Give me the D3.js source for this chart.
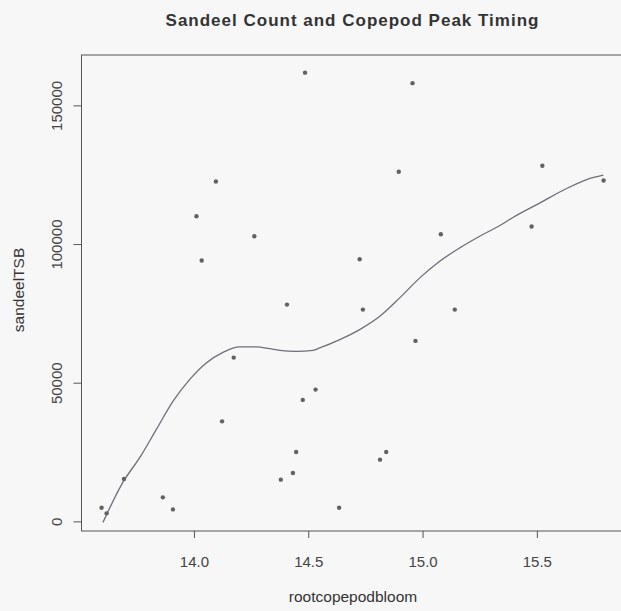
<!DOCTYPE html>
<html>
<head>
<meta charset="utf-8">
<script src="https://cdn.jsdelivr.net/npm/d3@7"></script>
<style>
  html, body { margin: 0; padding: 0; background: #f7f7f7; }
  svg { display: block; }
</style>
</head>
<body>
<svg id="chart" width="621" height="611"></svg>
<script>
// Copepod bloom timing (root-transformed) vs sandeel total stock biomass
const bloom = [14.486, 14.096, 14.011, 14.264, 14.034, 14.956, 14.896, 15.524, 15.792, 15.080,
               15.477, 14.725, 14.407, 14.174, 14.532, 14.476, 14.123, 14.447, 13.694, 14.433,
               14.380, 13.864, 13.596, 13.908, 13.618, 14.635, 14.739, 15.141, 14.969, 14.841,
               14.814];
const sandeelTSB = [161810, 122550, 110030, 102810, 94050, 158010, 126050, 128210, 122910, 103540,
                    106310, 94520, 78170, 59050, 47510, 43800, 36075, 25040, 15300, 17460,
                    15040, 8660, 4940, 4330, 2890, 4940, 76370, 76370, 65080, 25040,
                    22260];

// Smoothed trend through the scatter
const smoothX = [13.602, 13.689, 13.762, 13.835, 13.908, 13.981, 14.054, 14.127, 14.200, 14.273,
                 14.331, 14.375, 14.448, 14.521, 14.550, 14.638, 14.725, 14.813, 14.900, 14.988,
                 15.075, 15.163, 15.250, 15.338, 15.397, 15.514, 15.630, 15.718, 15.791];
const smoothY = [-360, 14070, 22870, 33080, 43290, 51120, 57140, 60970, 62920, 62920,
                 62300, 61690, 61330, 61690, 62550, 65550, 69160, 73950, 80590, 87810,
                 93800, 98630, 102810, 106670, 109670, 114860, 120020, 123270, 124820];

const xTicks = [14.0, 14.5, 15.0, 15.5];
const yTicks = [0, 50000, 100000, 150000];

const titleText = "Sandeel Count and Copepod Peak Timing";
const xLabel = "rootcopepodbloom";
const yLabel = "sandeelTSB";

const svg = d3.select("#chart");
const plot = { left: 81.5, right: 623.7, top: 55, bottom: 531 };

// R-style 4% padding around the data range
function padded(ext) {
  const p = (ext[1] - ext[0]) * 0.04;
  return [ext[0] - p, ext[1] + p];
}
const x = d3.scaleLinear().domain(padded(d3.extent(bloom))).range([plot.left, plot.right]);
const y = d3.scaleLinear().domain(padded(d3.extent(sandeelTSB))).range([plot.bottom, plot.top]);

const axisColor = "#555";
const textColor = "#444";
const font = "'Liberation Sans', Arial, sans-serif";

// Title
svg.append("text")
  .attr("x", 352.5).attr("y", 26)
  .attr("text-anchor", "middle")
  .attr("font-family", font).attr("font-weight", "bold").attr("font-size", 17)
  .attr("letter-spacing", 1)
  .attr("fill", "#333")
  .text(titleText);

// Plot box
svg.append("rect")
  .attr("x", plot.left).attr("y", plot.top)
  .attr("width", plot.right - plot.left).attr("height", plot.bottom - plot.top)
  .attr("fill", "none").attr("stroke", axisColor).attr("stroke-width", 1);

// X axis
const xAxis = d3.axisBottom(x).tickValues(xTicks).tickFormat(d3.format(".1f")).tickSize(7);
const gx = svg.append("g").attr("transform", `translate(0,${plot.bottom})`).call(xAxis);
gx.select(".domain").remove();
gx.selectAll("line").attr("stroke", axisColor);
gx.selectAll("text")
  .attr("font-family", font).attr("font-size", 15).attr("fill", textColor)
  .attr("y", 35.7).attr("dy", 0);

// Y axis with rotated labels
const yAxis = d3.axisLeft(y).tickValues(yTicks).tickFormat(d3.format("d")).tickSize(8);
const gy = svg.append("g").attr("transform", `translate(${plot.left},0)`).call(yAxis);
gy.select(".domain").remove();
gy.selectAll("line").attr("stroke", axisColor);
gy.selectAll("text")
  .attr("font-family", font).attr("font-size", 15).attr("fill", textColor)
  .attr("text-anchor", "middle").attr("x", 0).attr("y", 0).attr("dy", 0)
  .attr("transform", "translate(-19.8,0) rotate(-90)");

// Axis titles
svg.append("text")
  .attr("x", 353).attr("y", 602)
  .attr("text-anchor", "middle")
  .attr("font-family", font).attr("font-size", 15.5).attr("fill", "#333")
  .text(xLabel);
svg.append("text")
  .attr("transform", "translate(24,290) rotate(-90)")
  .attr("text-anchor", "middle")
  .attr("font-family", font).attr("font-size", 15.5).attr("fill", "#333")
  .text(yLabel);

// Smooth trend line
const line = d3.line()
  .x(d => x(d[0])).y(d => y(d[1]))
  .curve(d3.curveMonotoneX);
svg.append("path")
  .datum(d3.zip(smoothX, smoothY))
  .attr("d", line)
  .attr("fill", "none").attr("stroke", "#6e6e78").attr("stroke-width", 1.3);

// Scatter points
svg.append("g").selectAll("circle")
  .data(d3.zip(bloom, sandeelTSB))
  .join("circle")
  .attr("cx", d => x(d[0])).attr("cy", d => y(d[1]))
  .attr("r", 2.2)
  .attr("fill", "#626262");
</script>
</body>
</html>
